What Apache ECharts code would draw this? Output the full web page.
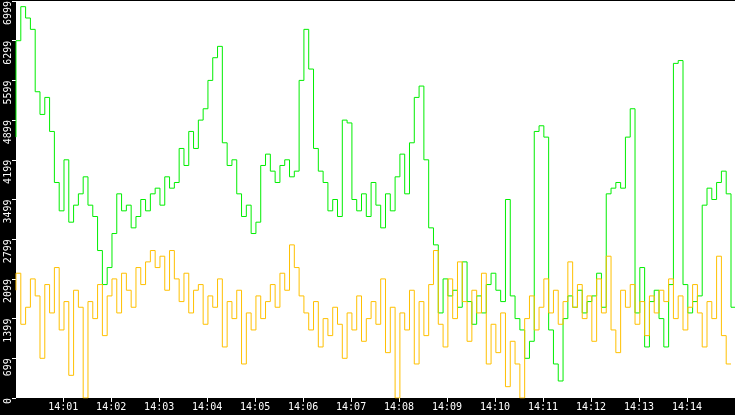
<!DOCTYPE html>
<html><head><meta charset="utf-8">
<script src="https://cdn.jsdelivr.net/npm/echarts@6/dist/echarts.min.js"></script>
<style>html,body{margin:0;padding:0;background:#000}#c{width:735px;height:415px}</style>
</head><body><div id="c"></div>
<script>
const startTime = new Date(2024,0,1,14,0,1).getTime();
const stepMs = 6000;
const yTicks = [0,699,1399,2099,2799,3499,4199,4899,5599,6299,6999];
const greenValues = [4600,6300, 6900,6700,6500, 5400,5000,5300,4700, 3800,3300,4200,3100,3400,
 3600,3900,3400,3200,2600, 2000,2300,2900, 3600,3300,3400,3000, 3200,3500,3300,3600,
 3700,3400,3900,3700, 3800,4400,4100, 4700,4400,4900, 5100,5600,6000,6200, 4500,4100,4200,
 3600,3200,3400, 2900,3100,4100, 4300,4000,3800, 4100,4200,3900, 4000,5600, 6500,5800,
 4400,4000,3800, 3300,3500,3200, 4900,4850, 3500,3300,3600, 3200,3800,3400, 3000,3600,3300,
 3900,4300,3600, 4500,5300,5500, 4200,3000,2700, 1500,2100,1800, 1900,1600,2400, 1700,1300,
 1800,1500,2000, 2200,1900,1700, 3500,1800,1400, 1200,700,1000, 4700,4800,4600, 1200,600,300,
 1400,1800,1600, 1900,1500,1700, 1800,2200,1600, 3600,3700,3800, 3700,4600,5100, 1500,2300,900,
 1700,1900,1400, 900,2000, 5900,5950, 2000,1500,1700, 1800,3400, 3700,3500,3800, 4000,3600,1600,
 2000,4000,5000, 3000,400];
const orangeValues = [1900,2200,1300,1600,2100,1800,700,2000,1500,2300,1200,1700,400,1900,1600,
 0,1700,1400,2000,1100,1800,2100,1500,2200,1900,1600,2300,2000,2400,2600,
 2300,2500,1900,2600,2100,1700,2200,1500,1900,2000,1300,1800,1600,2100,900,
 1700,1400,1900,600,1500,1200,1800,1400,1700,2000,1600,2200,1900,2700,2300,
 1800,1500,1200,1700,900,1400,1100,1600,1300,700,1500,1200,1800,1000,1400,
 1700,1300,2100,800,1600,0,1500,1200,1900,600,1700,1100,2000,2600,1300,
 900,2100,1400,2400,1700,1000,1900,1500,2200,600,1300,800,1500,200,1000,
 600,0,1400,1800,1200,1600,2100,1500,1900,1300,1700,2400,1600,2000,1400,
 1800,1000,2100,1500,2500,1200,800,1900,1600,2000,1300,1700,1100,1800,1500,
 1900,1700,2100,1400,1800,1200,1600,2000,1500,900,1700,1400,2500,1100,600];
const toPairs = a => a.map((v,i)=>[startTime+i*stepMs, v]);
const chart = echarts.init(document.getElementById('c'));
const pad = n => String(n).padStart(2,'0');
chart.setOption({
  backgroundColor:'#000',
  animation:false,
  grid:{left:16,right:0,top:1,bottom:17,show:true,backgroundColor:'#fff',borderWidth:0,containLabel:false,outerBoundsMode:'none'},
  xAxis:{type:'time',min:startTime,max:new Date(2024,0,1,14,15,0).getTime(),
    interval:60000,minInterval:60000,maxInterval:60000,
    axisLine:{show:false},splitLine:{show:false},
    axisTick:{show:true,length:4,lineStyle:{color:'#fff'}},
    axisLabel:{color:'#fff',fontFamily:'DejaVu Sans Mono',fontSize:10,margin:4,interval:0,hideOverlap:false,showMaxLabel:false,showMinLabel:false,
      formatter:v=>{const d=new Date(v);return pad(d.getHours())+':'+pad(d.getMinutes());}}},
  yAxis:{type:'value',min:0,max:7000,interval:700,
    axisLine:{show:false},splitLine:{show:false},
    axisTick:{show:true,length:4,lineStyle:{color:'#fff'}},
    axisLabel:{color:'#fff',fontFamily:'DejaVu Sans Mono',fontSize:10,rotate:90,margin:3,
      align:'right',alignMinLabel:'right',alignMaxLabel:'right',
      formatter:v=>{const i=Math.round(v/700);return yTicks[i]!==undefined?String(yTicks[i]):'';}}},
  series:[
    {type:'line',step:'start',symbol:'none',data:toPairs(greenValues),lineStyle:{color:'#00ee00',width:1}},
    {type:'line',step:'start',symbol:'none',data:toPairs(orangeValues),lineStyle:{color:'#ffc000',width:1}}
  ]
});
</script></body></html>
